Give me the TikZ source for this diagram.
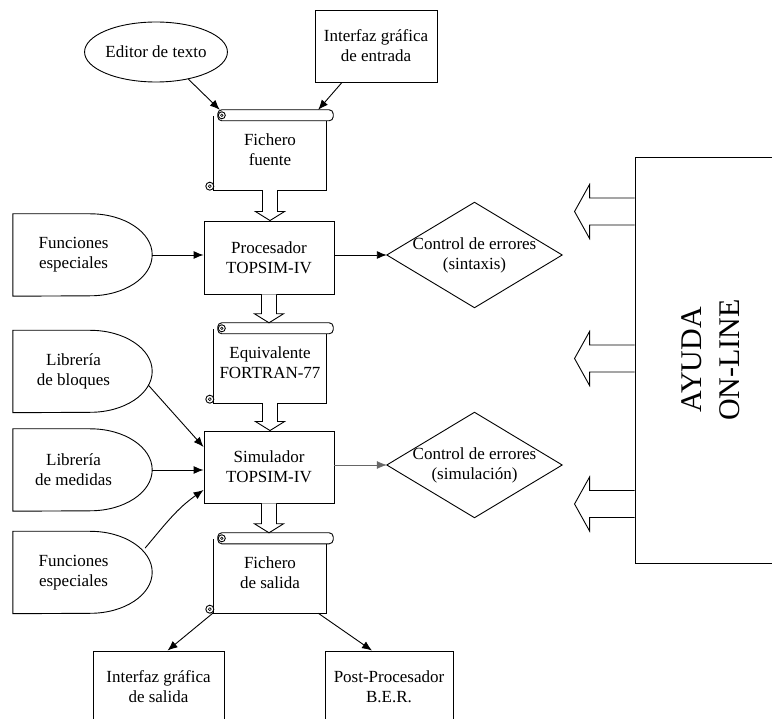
\documentclass[tikz,border=0pt]{standalone}
\usepackage{fontspec}
\setmainfont{Liberation Serif}
\usetikzlibrary{arrows.meta,shapes,calc}
\tikzstyle{process}=[rectangle,draw,line width=0.9pt,align=center,inner sep=0pt]
\tikzstyle{scroll}=[rectangle,align=center,minimum width=112pt,minimum height=80pt,inner sep=0pt]
\tikzstyle{delaybox}=[rectangle,align=center,minimum width=139pt,minimum height=82pt,inner sep=0pt]
\tikzstyle{decision}=[rectangle,align=center,minimum width=175pt,minimum height=105pt,inner sep=0pt]
\tikzstyle{outline}=[draw,line width=0.9pt]
\tikzstyle{flow}=[draw,line width=0.9pt,-{Latex[length=10pt,width=8pt]}]
\tikzstyle{hollow}=[draw,fill=white,line width=0.9pt]

% hollow arrow pointing down, from one node to the next
\newcommand{\blockdown}[2]{%
  \draw[hollow] let \p1=(#1.south), \p2=(#2.north) in
    (\x1-7.5pt,\y1) -- (\x1-7.5pt,\y2+9pt) -- (\x1-14.5pt,\y2+9pt) -- (\x1,\y2)
    -- (\x1+14.5pt,\y2+9pt) -- (\x1+7.5pt,\y2+9pt) -- (\x1+7.5pt,\y1);}

\begin{document}
\begin{tikzpicture}[x=1pt,y=-1pt,font=\fontsize{17}{20}\selectfont]
    \useasboundingbox (0,0) rectangle (772,719);

    % inputs
    \node[ellipse,draw,line width=0.9pt,minimum width=142pt,minimum height=60pt,inner sep=0pt] (ed) at (156,52) {Editor de texto};
    \node[process,minimum width=122pt,minimum height=72pt] (ie) at (376,46) {Interfaz gráfica\\de entrada};

    % files
    \foreach \pos/\name/\txt in {{(270,150)/ff/{Fichero\\fuente}}, {(270,363)/eq/{Equivalente\\FORTRAN-77}}, {(270,573)/fs/{Fichero\\de salida}}}
        \node[scroll] (\name) at \pos {\txt};

    \foreach \n in {ff,eq,fs} {
        \draw[outline] ([yshift=-6pt]\n.north west) -- (\n.south west) -- (\n.south east) -- ([yshift=-6pt]\n.north east);
        \draw[hollow,rounded corners=4pt] ([xshift=4pt]\n.north west) rectangle ([xshift=7pt,yshift=-11pt]\n.north east);
        \draw[hollow] ([xshift=8pt,yshift=-5.5pt]\n.north west) circle (3.5pt);
        \draw[line width=0.6pt] ([xshift=8pt,yshift=-5.5pt]\n.north west) circle (1.3pt);
        \draw[hollow] ([xshift=-4pt,yshift=4pt]\n.south west) circle (4pt);
        \draw[line width=0.6pt] ([xshift=-4pt,yshift=4pt]\n.south west) circle (1.5pt);
    }

    % libraries and functions
    \foreach \pos/\name/\txt in {{(82.5,255)/fe1/{Funciones\\especiales}}, {(82.5,371.5)/lb/{Librería\\de bloques}}, {(82.5,470)/lm/{Librería\\de medidas}}, {(82.5,572.5)/fe2/{Funciones\\especiales}}}
        \node[delaybox,label={[align=center,xshift=-9pt]center:\txt}] (\name) at \pos {};

    \foreach \n in {fe1,lb,lm,fe2}
        \draw[outline] (\n.north west) -- ([xshift=-62pt]\n.north east) arc[start angle=90,end angle=-90,x radius=62pt,y radius=41pt] -- (\n.south west) -- cycle;

    % processors
    \node[process,minimum width=130pt,minimum height=73pt] (pr) at (269,257.5) {Procesador\\TOPSIM-IV};
    \node[process,minimum width=130pt,minimum height=72pt] (si) at (269,467) {Simulador\\TOPSIM-IV};

    % error checks
    \node[decision] (ds) at (474.5,255) {Control de errores\\(sintaxis)};
    \node[decision] (dsim) at (474.5,465) {Control de errores\\(simulación)};
    \foreach \n in {ds,dsim}
        \draw[outline] (\n.west) -- (\n.north) -- (\n.east) -- (\n.south) -- cycle;

    % outputs
    \node[process,minimum width=131pt,minimum height=72pt] (is) at (158.5,687) {Interfaz gráfica\\de salida};
    \node[process,minimum width=128pt,minimum height=72pt] (pp) at (389,687) {Post-Procesador\\B.E.R.};

    % help
    \node[process,minimum width=152pt,minimum height=406pt] (ay) at (711,360) {};
    \node[rotate=90,align=center,font=\fontsize{30}{38}\selectfont] (aytxt) at (ay.center) {AYUDA\\ON-LINE};

    % connectors
    \path[flow] (ed.-40) -- ([xshift=6pt]ff.north west);
    \path[flow] ([xshift=-34pt]ie.south) -- ([xshift=-8pt]ff.north east);
    \path[flow] (fe1.east) -- (fe1.east -| pr.west);
    \path[flow] (pr.east |- ds.west) -- (ds.west);
    \path[flow] ([xshift=-4pt,yshift=-13.5pt]lb.east) -- ([yshift=20pt]si.west);
    \path[flow] (lm.east) -- (lm.east -| si.west);
    \path[flow] ([xshift=-7pt,yshift=24.5pt]fe2.east) to[out=50,in=215] ([yshift=-23pt]si.west);
    \path[flow,draw=black!60,line width=0.7pt] (si.east |- dsim.west) -- (dsim.west);
    \path[flow] ([xshift=-1pt]fs.south west) -- ([xshift=9pt]is.north);
    \path[flow] ([xshift=-8pt]fs.south east) -- ([xshift=-17pt]pp.north);

    \blockdown{ff}{pr}
    \blockdown{pr}{eq}
    \blockdown{eq}{si}
    \blockdown{si}{fs}

    \foreach \dy in {148.5pt,1.5pt,-144pt}
        \draw[hollow] ([yshift=\dy+13.5pt]ay.west) -- ++(-45pt,0pt) -- ++(0pt,13.5pt) -- ++(-15pt,-27pt)
            -- ++(15pt,-27pt) -- ++(0pt,13.5pt) -- ++(45pt,0pt);
\end{tikzpicture}
\end{document}
